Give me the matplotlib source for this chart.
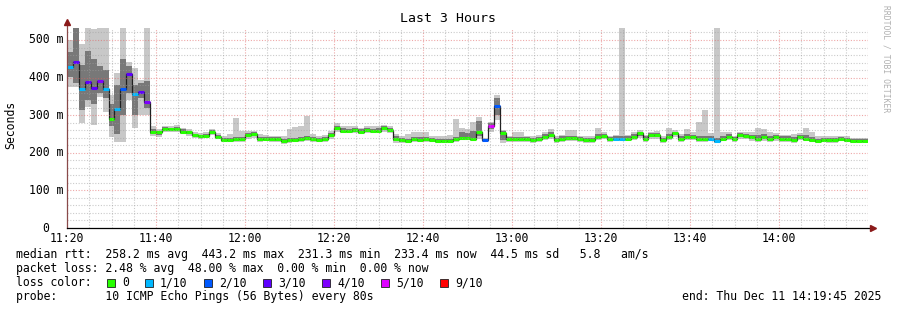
import numpy as np
import matplotlib
matplotlib.use("Agg")
import matplotlib.pyplot as plt
from matplotlib.patches import Rectangle

# ---------------- data ----------------
step_minutes = 80 / 60.0  # one probe every 80 s

median_ms = [429, 442, 371, 389, 372, 391, 369, 290, 316, 369, 410, 357, 361, 335,
             254, 254, 263, 263, 264, 256, 254, 247, 244, 246, 256, 243, 235, 235, 236,
             236, 247, 249, 237, 237, 236, 236, 232, 234, 234, 236, 240, 237, 234, 236, 247,
             265, 259, 259, 261, 256, 261, 259, 259, 265, 261, 238, 234, 232, 236, 234, 236, 234, 232,
             232, 232, 237, 240, 240, 238, 256, 233, 270, 324, 252, 237, 237, 237, 236, 234, 237, 243,
             248, 234, 238, 240, 240, 236, 234, 234, 243, 245, 236, 238, 238, 238, 243, 252,
             238, 247, 247, 234, 243, 252, 238, 243, 242, 238, 238, 238, 232, 238, 243, 236, 247, 245,
             242, 238, 243, 238, 242, 238, 238, 234, 242, 238, 234, 232, 234, 234, 234, 238, 234, 232,
             232, 232]

smoke_lo = [374, 374, 279, 323, 274, 349, 309, 243, 230, 230, 340, 265, 300, 300,
            244, 243, 255, 256, 256, 249, 246, 240, 238, 240, 248, 236, 228, 229, 229,
            230, 238, 240, 230, 231, 229, 228, 224, 227, 228, 229, 232, 230, 228, 229, 238,
            256, 252, 252, 253, 250, 253, 252, 252, 256, 253, 226, 226, 226, 228, 228, 228, 228, 225,
            226, 226, 230, 233, 233, 231, 238, 228, 255, 287, 227, 230, 230, 230, 229, 227, 230, 234,
            238, 227, 230, 232, 232, 229, 227, 227, 233, 236, 229, 231, 231, 231, 234, 240,
            229, 238, 238, 227, 234, 242, 229, 234, 233, 230, 230, 231, 226, 231, 235, 229, 238, 236,
            232, 230, 232, 230, 231, 230, 230, 227, 233, 231, 228, 226, 228, 227, 227, 231, 228, 226,
            226, 226]

smoke_q1 = [402, 385, 314, 340, 330, 360, 345, 270, 250, 300, 360, 300, 345, 320,
            249, 248, 259, 260, 260, 252, 250, 244, 241, 243, 252, 240, 232, 232, 233,
            233, 243, 245, 234, 234, 233, 232, 229, 231, 231, 233, 236, 234, 231, 233, 243,
            261, 256, 256, 257, 253, 257, 256, 256, 261, 257, 232, 230, 229, 232, 231, 232, 231, 229,
            229, 229, 234, 237, 237, 235, 245, 231, 262, 300, 235, 234, 234, 234, 233, 231, 234, 239,
            243, 231, 234, 236, 236, 233, 231, 231, 238, 241, 233, 235, 235, 235, 239, 246,
            234, 243, 243, 231, 239, 247, 234, 239, 238, 234, 234, 235, 229, 235, 239, 233, 243, 241,
            237, 234, 238, 234, 237, 234, 234, 231, 238, 235, 231, 229, 231, 231, 231, 235, 231, 229,
            229, 229]

smoke_q3 = [469, 532, 434, 470, 450, 430, 420, 330, 380, 450, 430, 380, 385, 390,
            262, 258, 268, 266, 268, 262, 258, 251, 248, 250, 260, 248, 240, 240, 242,
            242, 252, 254, 242, 242, 241, 241, 238, 240, 240, 242, 246, 243, 240, 241, 252,
            270, 265, 264, 266, 262, 266, 264, 265, 270, 266, 246, 240, 238, 242, 241, 242, 240, 238,
            237, 238, 243, 255, 252, 258, 285, 237, 278, 345, 258, 242, 243, 243, 241, 240, 243, 249,
            254, 240, 244, 246, 246, 242, 240, 240, 250, 250, 242, 244, 246, 244, 249, 256,
            244, 252, 252, 240, 250, 256, 244, 250, 248, 246, 246, 244, 240, 246, 249, 242, 252, 250,
            248, 248, 250, 246, 248, 244, 244, 242, 248, 248, 242, 238, 240, 240, 240, 243, 240, 236,
            236, 236]

smoke_hi = [500, 532, 489, 532, 529, 532, 532, 354, 411, 532, 442, 426, 394, 532,
            270, 262, 272, 270, 273, 266, 262, 255, 252, 254, 264, 252, 246, 250, 292,
            258, 258, 258, 250, 248, 246, 246, 244, 262, 268, 270, 299, 250, 246, 248, 258,
            280, 272, 270, 270, 266, 272, 270, 270, 275, 270, 250, 246, 250, 254, 254, 254, 246, 246,
            244, 247, 290, 265, 262, 281, 294, 240, 282, 354, 261, 246, 254, 254, 246, 246, 248, 254,
            263, 244, 248, 261, 261, 246, 244, 246, 267, 256, 246, 248, 532, 248, 254, 260,
            248, 256, 258, 246, 265, 260, 250, 262, 256, 283, 314, 252, 532, 254, 254, 246, 256, 254,
            254, 265, 262, 256, 252, 248, 248, 250, 252, 265, 256, 244, 246, 244, 244, 246, 244, 240,
            240, 240]

loss_tenths = [1, 3, 1, 3, 3, 4, 1, 0, 1, 2, 3, 1, 3, 4] + [0] * 56 + [2, 5, 2] + [0] * 19 + \
              [1, 1] + [0] * 14 + [1, 1] + [0] * 25

loss_levels = ["0", "1/10", "2/10", "3/10", "4/10", "5/10", "9/10"]
loss_level_values = [0, 1, 2, 3, 4, 5, 9]
loss_colors = ["#26ff00", "#00b8ff", "#0059ff", "#5e00ff", "#7e00ff", "#dd00ff", "#ff0000"]

x_tick_minutes = [0, 20, 40, 60, 80, 100, 120, 140, 160]
x_tick_labels = ["11:20", "11:40", "12:00", "12:20", "12:40", "13:00", "13:20", "13:40", "14:00"]
y_tick_values = [0, 100, 200, 300, 400, 500]
y_tick_labels = ["0", "100 m", "200 m", "300 m", "400 m", "500 m"]

title = "Last 3 Hours"
legend_line1 = "median rtt:  258.2 ms avg  443.2 ms max  231.3 ms min  233.4 ms now  44.5 ms sd   5.8   am/s"
legend_line2 = "packet loss: 2.48 % avg  48.00 % max  0.00 % min  0.00 % now"
legend_line3 = "loss color:"
legend_line4 = "probe:       10 ICMP Echo Pings (56 Bytes) every 80s"
end_text = "end: Thu Dec 11 14:19:45 2025"

# ---------------- figure ----------------
W, H = 897, 310
fig = plt.figure(figsize=(W / 100, H / 100), dpi=100)
fig.patch.set_facecolor("white")
MONO = "DejaVu Sans Mono"
FS = 8.3

def fx(px):
    return px / W

def fy(py):
    return 1 - py / H

L, R, T, B = 67, 868, 28, 228
YMAX = 531.9
ax = fig.add_axes([fx(L), fy(B), (R - L) / W, (B - T) / H])
ax.set_facecolor("white")
ax.set_xlim(0, 180)
ax.set_ylim(0, YMAX)

n = len(median_ms)
edges = np.arange(n + 1) * step_minutes
med = np.array(median_ms, float)

# smoke
ax.stairs(smoke_hi, edges, baseline=smoke_lo, fill=True, color="#c8c8c8", lw=0, zorder=1)
ax.stairs(smoke_q3, edges, baseline=smoke_q1, fill=True, color="#787878", lw=0, zorder=2)

# median line
ax.stairs(med, edges, baseline=None, color="#202020", lw=0.9, zorder=3)

# median bars coloured by loss
col_map = dict(zip(loss_level_values, loss_colors))
bar_cols = [col_map[v] for v in loss_tenths]
ax.hlines(med, edges[:-1], edges[1:], colors=bar_cols, linewidth=2.2, zorder=4)

# grid (on top, like rrdtool)
for m in range(5, 181, 5):
    c = "#e06060" if m % 20 == 0 else "#a0a0a0"
    ax.axvline(m, color=c, alpha=0.55, lw=0.8, ls=(0, (1, 1.5)), zorder=5)
for v in range(20, 532, 20):
    c = "#e06060" if v % 100 == 0 else "#a0a0a0"
    ax.axhline(v, color=c, alpha=0.55, lw=0.8, ls=(0, (1, 1.5)), zorder=5)

for s in ax.spines.values():
    s.set_visible(False)
ax.set_xticks([])
ax.set_yticks([])

# axes lines with arrows
ax.plot([0, 0], [0, 1.02], transform=ax.transAxes, color="#8a4a4a", lw=0.9, clip_on=False, zorder=6)
ax.plot([0, 1.004], [0, 0], transform=ax.transAxes, color="#000000", lw=0.9, clip_on=False, zorder=6)
ax.plot([0], [1.03], marker="^", ms=5, color="#8b1a1a", transform=ax.transAxes, clip_on=False, zorder=7)
ax.plot([1.006], [0], marker=">", ms=5, color="#8b1a1a", transform=ax.transAxes, clip_on=False, zorder=7)

# tick labels
for m, lab in zip(x_tick_minutes, x_tick_labels):
    px = L + m * (R - L) / 180
    fig.text(fx(px), fy(238), lab, ha="center", va="center", family=MONO, fontsize=FS)
for v, lab in zip(y_tick_values, y_tick_labels):
    py = B - v * (B - T) / YMAX
    xr = 63 if v != 0 else 49
    fig.text(fx(xr), fy(py), lab, ha="right", va="center", family=MONO, fontsize=FS)

# title, axis label, watermark
fig.text(fx(448), fy(19), title, ha="center", va="center", family=MONO, fontsize=9.5)
fig.text(fx(11), fy(125), "Seconds", ha="center", va="center", rotation=90, family=MONO, fontsize=FS)
fig.text(fx(886), fy(59), "RRDTOOL / TOBI OETIKER", ha="center", va="center", rotation=270,
         family=MONO, fontsize=5.8, color="#b0b0b0")

# legend
fig.text(fx(16), fy(254.5), legend_line1, ha="left", va="center", family=MONO, fontsize=FS)
fig.text(fx(16), fy(268.5), legend_line2, ha="left", va="center", family=MONO, fontsize=FS)
fig.text(fx(16), fy(282.5), legend_line3, ha="left", va="center", family=MONO, fontsize=FS)
fig.text(fx(16), fy(296.5), legend_line4, ha="left", va="center", family=MONO, fontsize=FS)
fig.text(fx(881), fy(296.5), end_text, ha="right", va="center", family=MONO, fontsize=FS)

sq = 8
xpos = 107
for lab, col in zip(loss_levels, loss_colors):
    fig.patches.append(Rectangle((fx(xpos), fy(282.5 + sq / 2)), sq / W, sq / H,
                                 transform=fig.transFigure, facecolor=col,
                                 edgecolor="#202020", lw=0.6))
    fig.text(fx(xpos + 15), fy(282.5), lab, ha="left", va="center", family=MONO, fontsize=FS)
    xpos = xpos + 15 + 7 * len(lab) + 16

fig.savefig("out.png", dpi=100, facecolor="white")
